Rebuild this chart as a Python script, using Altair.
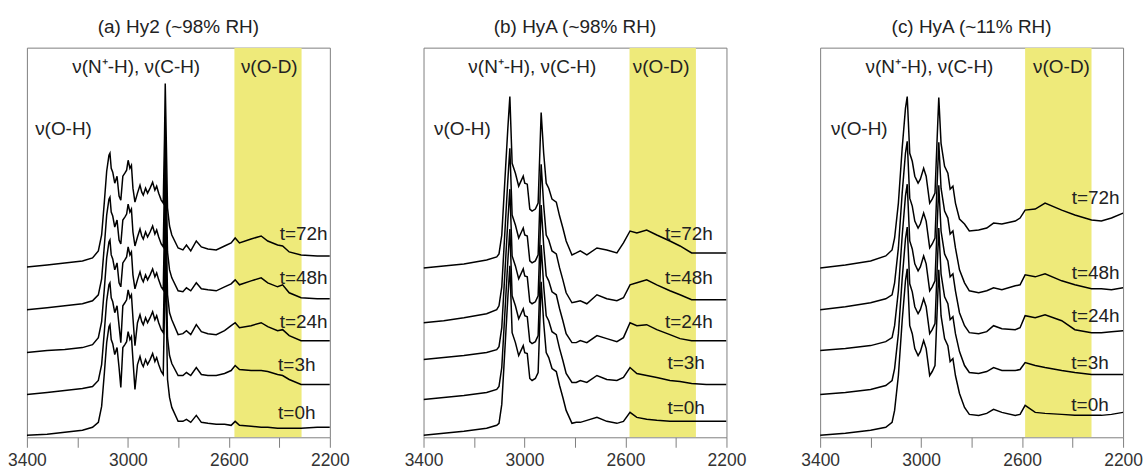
import altair as alt
import pandas as pd

TIMES = ["t=0h", "t=3h", "t=24h", "t=48h", "t=72h"]
TICKS = [3400, 3200, 3000, 2800, 2600, 2400, 2200]
TITLES = ["(a) Hy2 (~98% RH)", "(b) HyA (~98% RH)", "(c) HyA (~11% RH)"]
ANNOT_TEXT = ["ν(N⁺-H), ν(C-H)", "ν(O-D)", "ν(O-H)"]

# ---------- panel (a) : wavenumber (cm-1) and stacked absorbance (a.u.) ----------
A_WN = [3400, 3320, 3250, 3180, 3140, 3117,
        3104, 3093, 3084, 3075, 3071, 3066, 3060, 3052, 3043, 3035, 3028, 3020, 3012, 3005,
        2999, 2992, 2986, 2980, 2972, 2962, 2952, 2945, 2939, 2930, 2922, 2912, 2902, 2893,
        2886, 2878, 2868, 2860, 2855, 2852, 2848, 2843, 2835,
        2826, 2801, 2782, 2768, 2751, 2729, 2709, 2683, 2650, 2617, 2591, 2575, 2558, 2512,
        2472, 2446, 2407, 2387, 2361, 2314, 2250, 2200]
A_T72 = [171, 173, 175, 177, 180, 187,
         203, 237, 267, 283, 285, 270, 266, 255, 262, 242, 238, 262, 265, 268,
         278, 270, 273, 250, 236, 245, 253, 246, 243, 250, 245, 250, 256, 248,
         252, 245, 238, 235, 300, 355, 300, 230, 212,
         203, 190, 188, 193, 187, 197, 191, 189, 188, 192, 195, 200, 195, 199,
         202, 197, 193, 192, 186, 183, 182, 182]
A_T48 = [128, 130, 132, 134, 137, 143,
         159, 193, 223, 239, 241, 226, 222, 211, 218, 198, 194, 218, 221, 224,
         234, 226, 229, 206, 192, 201, 209, 202, 199, 206, 201, 206, 212, 204,
         208, 201, 194, 191, 256, 311, 256, 186, 168,
         160, 147, 146, 150, 147, 155, 149, 148, 147, 151, 154, 158, 153, 157,
         160, 155, 151, 153, 145, 140, 139, 139]
A_T24 = [85, 87, 88, 90, 93, 100,
         116, 150, 180, 196, 198, 183, 179, 168, 175, 155, 151, 175, 178, 181,
         191, 183, 186, 163, 149, 158, 166, 159, 156, 163, 158, 163, 169, 161,
         165, 158, 151, 148, 213, 268, 213, 143, 125,
         118, 103, 104, 107, 103, 113, 106, 104, 103, 107, 112, 115, 110, 112,
         115, 111, 107, 108, 102, 97, 97, 97]
A_T3 = [43, 45, 47, 49, 51, 57,
        73, 107, 137, 153, 155, 140, 136, 125, 132, 112, 95, 132, 135, 138,
        148, 140, 143, 120, 92, 115, 123, 116, 113, 120, 115, 120, 126, 118,
        122, 115, 108, 105, 170, 225, 170, 100, 82,
        74, 62, 62, 65, 62, 70, 63, 62, 62, 64, 67, 72, 68, 67,
        67, 66, 63, 62, 58, 53, 53, 53]
A_T0 = [2, 3, 5, 7, 10, 15,
        31, 65, 95, 111, 113, 98, 94, 83, 90, 70, 50, 90, 93, 96,
        106, 98, 101, 78, 48, 73, 81, 74, 71, 78, 73, 78, 84, 76,
        80, 73, 66, 63, 128, 183, 128, 58, 40,
        30, 16, 16, 18, 15, 22, 15, 14, 13, 13, 12, 16, 12, 11,
        10, 10, 9, 9, 9, 9, 10, 10]

# ---------- panel (b) ----------
B_WN = [3400, 3320, 3240, 3150, 3110,
        3101, 3090, 3075, 3066, 3058, 3049, 3036, 3023, 3005, 2999, 2989, 2979, 2970, 2957,
        2946, 2940, 2934, 2924, 2914, 2904, 2891, 2874, 2861, 2848, 2835,
        2812, 2795, 2779, 2753, 2713, 2674, 2634, 2608, 2582, 2555, 2516, 2476, 2424, 2384,
        2338, 2280, 2200]
B_T72 = [170, 172, 174, 178, 181,
         184, 203, 270, 310, 342, 275, 265, 252, 262, 255, 254, 229, 227, 229,
         235, 280, 326, 285, 255, 250, 239, 236, 222, 210, 197,
         183, 185, 187, 183, 190, 188, 185, 195, 207, 205, 208, 203, 197, 192,
         185, 185, 185]
B_T48 = [115, 117, 120, 124, 128,
         132, 151, 218, 258, 290, 223, 213, 200, 210, 203, 202, 177, 175, 177,
         183, 228, 274, 233, 203, 198, 187, 184, 170, 158, 145,
         135, 136, 137, 134, 143, 139, 137, 140, 153, 155, 158, 153, 147, 143,
         138, 138, 138]
B_T24 = [78, 80, 82, 85, 88,
         91, 110, 177, 217, 249, 182, 172, 159, 169, 162, 161, 136, 134, 136,
         142, 187, 233, 192, 162, 157, 146, 143, 129, 117, 104,
         95, 95, 97, 95, 102, 99, 96, 100, 115, 112, 113, 108, 103, 99,
         97, 97, 97]
B_T3 = [38, 40, 42, 45, 48,
        51, 70, 137, 177, 209, 142, 132, 119, 129, 122, 121, 96, 94, 96,
        102, 147, 193, 152, 122, 117, 106, 103, 89, 77, 64,
        55, 55, 57, 55, 62, 58, 57, 60, 70, 64, 62, 60, 57, 56,
        54, 53, 53]
B_T0 = [2, 4, 6, 9, 12,
        14, 33, 100, 140, 172, 105, 95, 82, 92, 85, 84, 59, 57, 59,
        65, 110, 156, 115, 85, 80, 69, 66, 52, 40, 27,
        14, 15, 15, 17, 20, 16, 14, 16, 25, 20, 18, 17, 16, 16,
        16, 16, 16]

# ---------- panel (c) ----------
C_WN = [3400, 3300, 3200, 3140, 3115,
        3105, 3090, 3075, 3062, 3055, 3045, 3035, 3025, 3012, 3003, 2990, 2980, 2966, 2956,
        2945, 2938, 2930, 2921, 2907, 2894, 2885, 2874, 2864, 2848, 2828,
        2809, 2772, 2740, 2713, 2680, 2627, 2608, 2588, 2548, 2509, 2443, 2391, 2325, 2286,
        2246, 2200]
C_T72 = [170, 173, 177, 182, 188,
         200, 235, 290, 330, 342, 285, 277, 262, 255, 259, 270, 262, 235, 239,
         245, 290, 341, 295, 272, 265, 249, 252, 235, 219, 214,
         207, 208, 210, 215, 214, 217, 220, 228, 229, 235, 228, 223, 218, 217,
         220, 225]
C_T48 = [128, 131, 135, 139, 143,
         155, 190, 245, 285, 297, 240, 232, 217, 210, 214, 225, 217, 190, 194,
         200, 245, 296, 250, 227, 220, 204, 207, 190, 168, 155,
         147, 145, 147, 150, 148, 152, 153, 163, 161, 164, 157, 153, 149, 149,
         148, 150]
C_T24 = [87, 89, 92, 96, 100,
         112, 147, 202, 242, 254, 197, 189, 174, 167, 171, 182, 174, 147, 151,
         157, 202, 253, 207, 184, 177, 161, 164, 147, 125, 112,
         105, 104, 106, 112, 109, 108, 110, 122, 120, 123, 117, 108, 105, 105,
         106, 107]
C_T3 = [43, 45, 48, 52, 57,
        69, 104, 159, 199, 211, 154, 146, 131, 124, 128, 139, 131, 104, 108,
        114, 159, 210, 164, 141, 134, 118, 121, 104, 86, 72,
        65, 64, 66, 70, 67, 67, 68, 75, 72, 70, 67, 65, 63, 63,
        63, 63]
C_T0 = [2, 4, 7, 10, 15,
        27, 62, 117, 157, 169, 112, 104, 89, 82, 86, 97, 89, 62, 66,
        72, 117, 168, 122, 99, 92, 76, 79, 62, 44, 30,
        23, 22, 24, 28, 25, 22, 23, 32, 25, 24, 23, 22, 22, 22,
        23, 25]

# O-D bands (cm-1)
BANDS = [(2578, 2312), (2584, 2321), (2588, 2325)]

# label anchors (layout only)
LABEL_WN = [[2257, 2257, 2209, 2209, 2209],
            [2286, 2286, 2254, 2254, 2254],
            [2257, 2257, 2214, 2214, 2214]]
LABEL_H = [[24, 73, 116, 160, 204],
           [29, 75, 116, 160, 204],
           [32, 75, 122, 165, 240]]
ANNOT_WN = [[2967, 2440, 3255], [2969, 2459, 3246], [2967, 2444, 3245]]
ANNOT_H = [372, 372, 309]

SERIES = [[A_T0, A_T3, A_T24, A_T48, A_T72],
          [B_T0, B_T3, B_T24, B_T48, B_T72],
          [C_T0, C_T3, C_T24, C_T48, C_T72]]
WNS = [A_WN, B_WN, C_WN]

W, H = 304, 391
FONT = "Liberation Sans"
FS_TITLE = 19
FS_TEXT = 19
FS_TICK = 17.5
TXT = "#222222"
YELLOW = "#EEEA7A"


def make_panel(i):
    xs = alt.Scale(domain=[2200, 3400], reverse=True, nice=False, zero=False)
    ys = alt.Scale(domain=[0, H], nice=False, zero=False)
    xaxis = alt.Axis(values=TICKS, labelOverlap=False, labelFlush=False, title=None,
                     labelExpr="(datum.value - 2200) % 400 === 0 ? format(datum.value, 'd') : ''")
    rows = []
    for t, vals in zip(TIMES, SERIES[i]):
        for w, v in zip(WNS[i], vals):
            rows.append({"wn": w, "a": v, "t": t})
    spec = pd.DataFrame(rows)

    band_df = pd.DataFrame({"x1": [BANDS[i][0]], "x2": [BANDS[i][1]]})
    band = alt.Chart(band_df).mark_rect(color=YELLOW, clip=True).encode(
        x=alt.X("x1:Q", scale=xs, axis=xaxis), x2="x2:Q",
        y=alt.value(0), y2=alt.value(H))

    lines = alt.Chart(spec).mark_line(color="black", strokeWidth=1.5, clip=True).encode(
        x=alt.X("wn:Q", scale=xs, axis=xaxis),
        y=alt.Y("a:Q", scale=ys, axis=None),
        detail="t:N")

    lab_df = pd.DataFrame({"wn": LABEL_WN[i], "h": LABEL_H[i], "t": TIMES})
    labels = alt.Chart(lab_df).mark_text(align="right", baseline="middle", font=FONT,
                                         fontSize=FS_TEXT, color=TXT).encode(
        x=alt.X("wn:Q", scale=xs, axis=xaxis), y=alt.Y("h:Q", scale=ys, axis=None), text="t:N")

    ann_df = pd.DataFrame({"wn": ANNOT_WN[i], "h": ANNOT_H, "s": ANNOT_TEXT})
    annots = alt.Chart(ann_df).mark_text(align="center", baseline="middle", font=FONT,
                                         fontSize=FS_TEXT, color=TXT).encode(
        x=alt.X("wn:Q", scale=xs, axis=xaxis), y=alt.Y("h:Q", scale=ys, axis=None), text="s:N")

    return alt.layer(band, lines, labels, annots).properties(
        width=W, height=H,
        title=alt.TitleParams(text=TITLES[i], font=FONT, fontSize=FS_TITLE, fontWeight="normal",
                              color=TXT, anchor="middle", offset=-4, baseline="alphabetic"))


chart = alt.hconcat(*[make_panel(i) for i in range(3)], spacing=54).properties(
    padding={"left": 7, "top": 16, "right": 0, "bottom": 0}
).configure_view(stroke="#808080", strokeWidth=1).configure_axisX(
    domain=False, grid=False, tickColor="#808080", tickSize=10, tickWidth=1,
    labelFont=FONT, labelFontSize=FS_TICK, labelColor="#333333", labelPadding=4
)

chart.save("out.html", embed_options={"renderer": "svg", "actions": False})
